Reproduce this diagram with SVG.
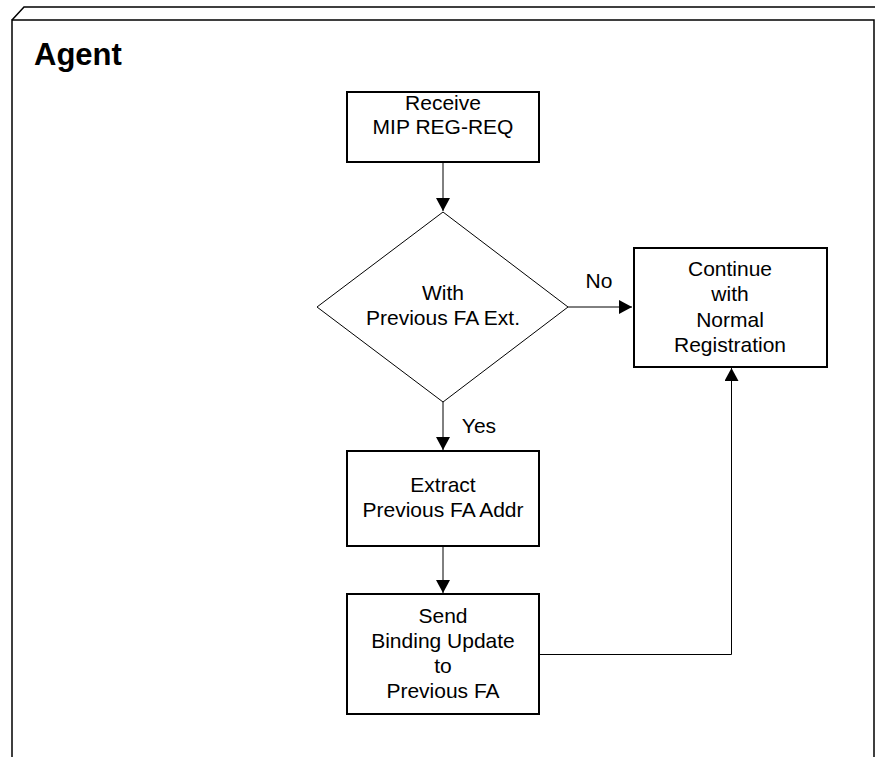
<svg xmlns="http://www.w3.org/2000/svg" width="875" height="757" viewBox="0 0 875 757">
  <style>
    .frame { fill: none; stroke: #000; stroke-width: 1.5; }
    .box { fill: #fff; stroke: #000; stroke-width: 2; }
    .dia { fill: #fff; stroke: #000; stroke-width: 1; }
    .lbl { font-family: "Liberation Sans", Arial, sans-serif; font-size: 21px; fill: #000; text-anchor: middle; }
    .title { font-family: "Liberation Sans", Arial, sans-serif; font-size: 31px; font-weight: bold; fill: #000; }
    .edge { fill: none; stroke: #000; stroke-width: 1; }
  </style>
  <defs>
    <marker id="arrow" markerWidth="13" markerHeight="14" refX="13" refY="7" orient="auto" markerUnits="userSpaceOnUse">
      <path d="M0,0 L13,7 L0,14 Z" fill="#000"/>
    </marker>
  </defs>

  <!-- 3D-style package frame -->
  <g id="frame">
    <path class="frame" d="M12,757 L12,20 L874,20 L874,757"/>
    <path class="frame" d="M12,20 L24,7 L875,7"/>
    <text class="title" x="34" y="65">Agent</text>
  </g>

  <!-- connectors -->
  <g id="connectors">
    <line class="edge" x1="443" y1="163" x2="443" y2="211" marker-end="url(#arrow)"/>
    <line class="edge" x1="568" y1="307" x2="632" y2="307" marker-end="url(#arrow)"/>
    <line class="edge" x1="443" y1="402" x2="443" y2="450" marker-end="url(#arrow)"/>
    <line class="edge" x1="443" y1="547" x2="443" y2="593" marker-end="url(#arrow)"/>
    <path class="edge" d="M540,654.5 L731.5,654.5 L731.5,368" marker-end="url(#arrow)"/>
    <text class="lbl" x="599" y="288">No</text>
    <text class="lbl" x="479" y="433">Yes</text>
  </g>

  <g id="receive">
    <rect class="box" x="347" y="92" width="192" height="70"/>
    <text class="lbl" x="443" y="110">Receive</text>
    <text class="lbl" x="443" y="134">MIP REG-REQ</text>
  </g>

  <g id="decision">
    <polygon class="dia" points="443,212 568,307 443,402 317,307"/>
    <text class="lbl" x="443" y="300">With</text>
    <text class="lbl" x="443" y="325">Previous FA Ext.</text>
  </g>

  <g id="continue">
    <rect class="box" x="634" y="248" width="193" height="119"/>
    <text class="lbl" x="730" y="276">Continue</text>
    <text class="lbl" x="730" y="301">with</text>
    <text class="lbl" x="730" y="327">Normal</text>
    <text class="lbl" x="730" y="352">Registration</text>
  </g>

  <g id="extract">
    <rect class="box" x="347" y="451" width="192" height="95"/>
    <text class="lbl" x="443" y="492">Extract</text>
    <text class="lbl" x="443" y="517">Previous FA Addr</text>
  </g>

  <g id="send">
    <rect class="box" x="347" y="594" width="192" height="120"/>
    <text class="lbl" x="443" y="623">Send</text>
    <text class="lbl" x="443" y="648">Binding Update</text>
    <text class="lbl" x="443" y="673">to</text>
    <text class="lbl" x="443" y="698">Previous FA</text>
  </g>
</svg>
